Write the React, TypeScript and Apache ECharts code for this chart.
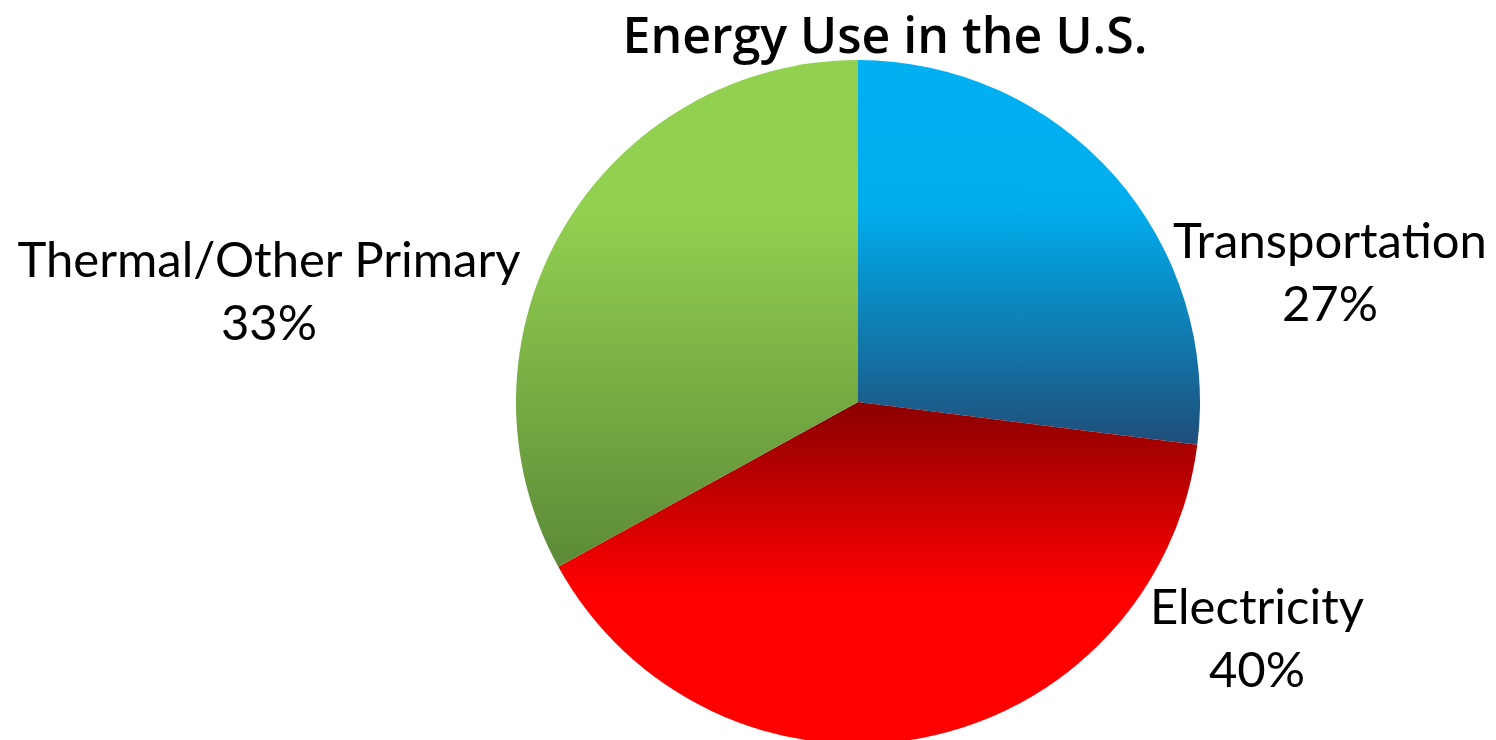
import React, { useEffect, useRef } from "react";
import * as echarts from "echarts";

const titleText = "Energy Use in the U.S.";
const categories = ["Transportation", "Electricity", "Thermal/Other Primary"];
const shares = [27, 40, 33];
const labelCenters: [number, number][] = [
  [1330, 270],
  [1257, 636],
  [269, 289],
];

const gradients = [
  [
    { offset: 0, color: "#00B0F0" },
    { offset: 0.38, color: "#00AEEE" },
    { offset: 1, color: "#1F4E79" },
  ],
  [
    { offset: 0, color: "#8B0000" },
    { offset: 0.55, color: "#FF0000" },
    { offset: 1, color: "#FF0000" },
  ],
  [
    { offset: 0, color: "#92D050" },
    { offset: 0.3, color: "#92D050" },
    { offset: 1, color: "#5C8A37" },
  ],
];

export default function App() {
  const ref = useRef<HTMLDivElement>(null);
  useEffect(() => {
    document.body.style.margin = "0";
    const chart = echarts.init(ref.current!, null, { renderer: "svg" });
    chart.setOption({
      animation: false,
      backgroundColor: "#ffffff",
      title: {
        text: titleText,
        left: 885,
        top: 6,
        padding: 0,
        textAlign: "center",
        textStyle: {
          fontFamily: "Open Sans",
          fontWeight: 600,
          fontSize: 50,
          lineHeight: 56,
          color: "#000000",
        },
      },
      series: [
        {
          type: "pie",
          center: [858, 402],
          radius: [0, 342],
          startAngle: 90,
          clockwise: true,
          avoidLabelOverlap: false,
          labelLine: { show: false },
          label: {
            show: true,
            position: "outside",
            formatter: "{b}\n{d}%",
            fontFamily: "Lato",
            fontSize: 49,
            lineHeight: 63,
            color: "#000000",
            align: "center",
          },
          labelLayout: (params: any) => {
            const c = labelCenters[params.dataIndex];
            return {
              x: c[0],
              y: c[1],
              align: "center",
              verticalAlign: "middle",
            };
          },
          data: categories.map((name, i) => ({
            name,
            value: shares[i],
            itemStyle: {
              color: new echarts.graphic.LinearGradient(0, 0, 0, 1, gradients[i]),
            },
          })),
        },
      ],
    });
    return () => chart.dispose();
  }, []);
  return <div ref={ref} style={{ width: 1496, height: 740 }} />;
}
